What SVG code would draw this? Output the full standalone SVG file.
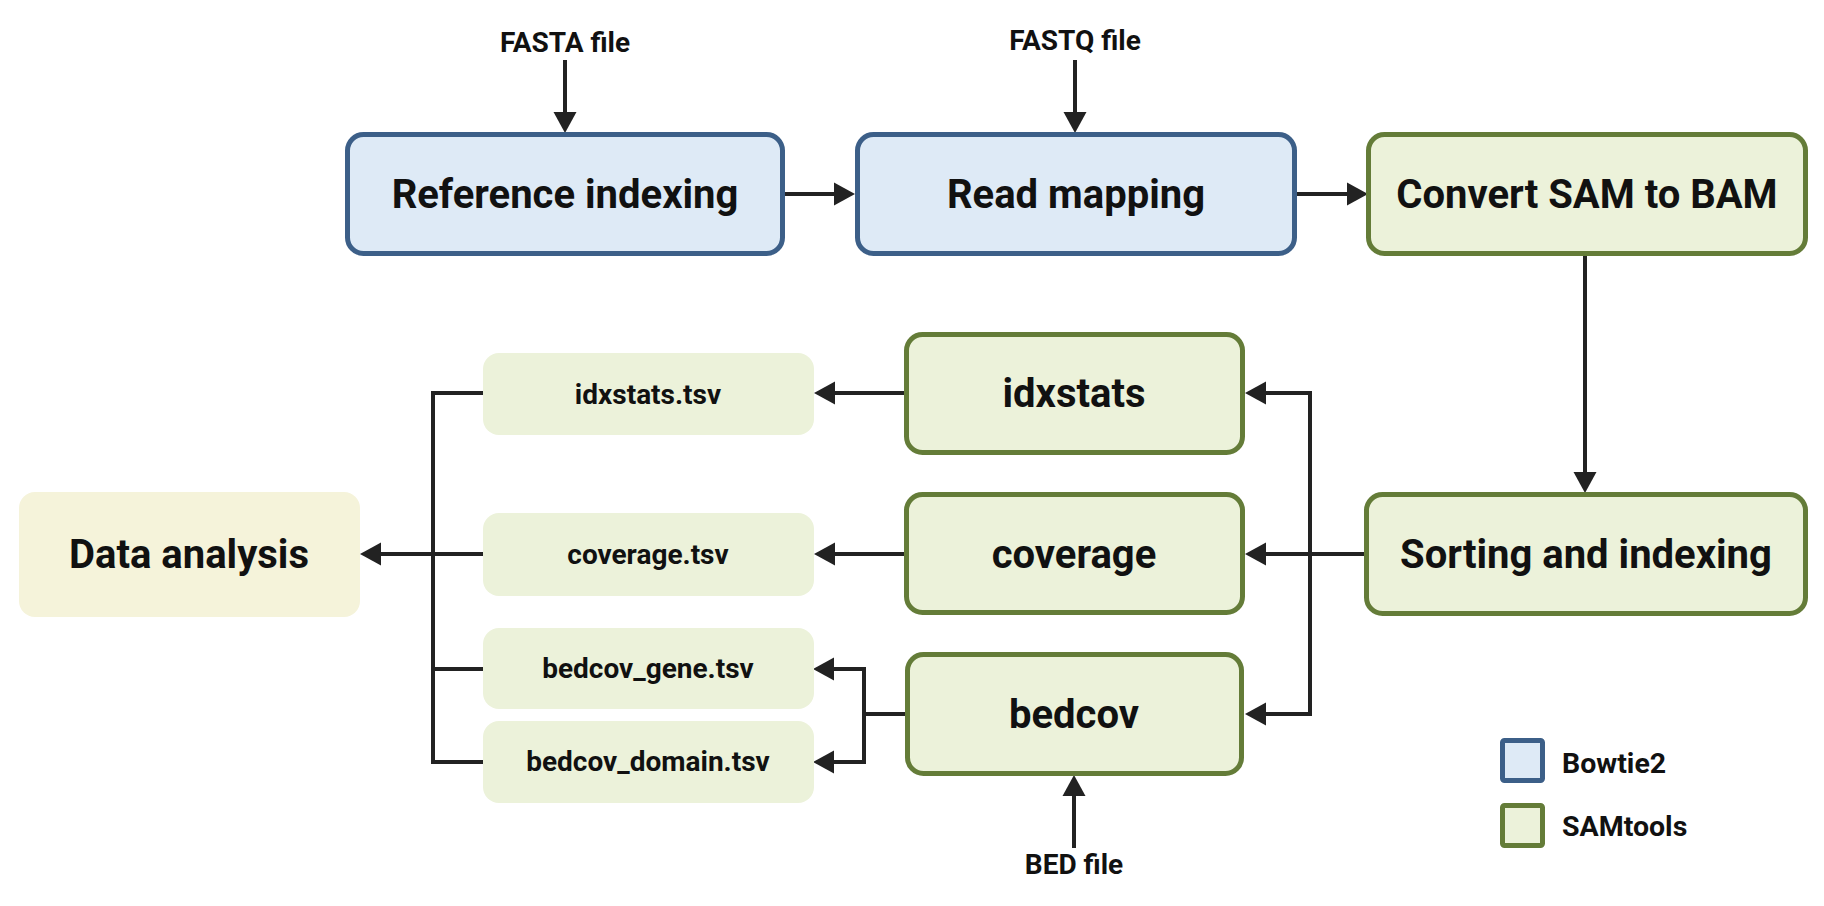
<svg xmlns="http://www.w3.org/2000/svg" width="1824" height="906" viewBox="0 0 1824 906">
<style>
.blue{fill:#deeaf6;stroke:#3c5f88;stroke-width:5}
.green{fill:#ecf2da;stroke:#647c38;stroke-width:5}
.out{fill:#ecf2da}
.da{fill:#f5f3da}
.lbl{font-family:Roboto,"Liberation Sans",sans-serif;font-weight:bold;font-size:40px;fill:#111;text-anchor:middle}
.sm{font-family:Roboto,"Liberation Sans",sans-serif;font-weight:bold;font-size:28px;fill:#111;text-anchor:middle}
.lg{font-family:Roboto,"Liberation Sans",sans-serif;font-weight:bold;font-size:28.5px;fill:#111}
.c{fill:none;stroke:#222;stroke-width:4}
</style>
<defs>
<marker id="ah" markerUnits="userSpaceOnUse" markerWidth="22" markerHeight="24" refX="2" refY="12" orient="auto">
<path d="M0,0.5 L21,12 L0,23.5 z" fill="#222"/>
</marker>
</defs>
<rect width="1824" height="906" fill="#fff"/>
<g id="connectors">
<path class="c" d="M565,60 V114" marker-end="url(#ah)"/>
<path class="c" d="M1075,60 V114" marker-end="url(#ah)"/>
<path class="c" d="M785,194 H836" marker-end="url(#ah)"/>
<path class="c" d="M1297,194 H1349" marker-end="url(#ah)"/>
<path class="c" d="M1585,256 V474" marker-end="url(#ah)"/>
<path class="c" d="M1364,554 H1264" marker-end="url(#ah)"/>
<path class="c" d="M1310,554 V393 H1264" marker-end="url(#ah)"/>
<path class="c" d="M1310,554 V714 H1264" marker-end="url(#ah)"/>
<path class="c" d="M904,393 H833" marker-end="url(#ah)"/>
<path class="c" d="M904,554 H833" marker-end="url(#ah)"/>
<path class="c" d="M905,714 H864 V669 H832" marker-end="url(#ah)"/>
<path class="c" d="M864,714 V762 H832" marker-end="url(#ah)"/>
<path class="c" d="M1074,848 V794" marker-end="url(#ah)"/>
<path class="c" d="M483,393 H433 V762 H483"/>
<path class="c" d="M483,669 H433"/>
<path class="c" d="M483,554 H379" marker-end="url(#ah)"/>
</g>
<g id="fasta"><text class="sm" x="565" y="52">FASTA file</text></g>
<g id="fastq"><text class="sm" x="1075" y="50">FASTQ file</text></g>
<g id="bed"><text class="sm" x="1074" y="874">BED file</text></g>
<g id="ref-indexing"><rect class="blue" x="347.5" y="134.5" width="435" height="119" rx="16"/><text class="lbl" x="565" y="208">Reference indexing</text></g>
<g id="read-mapping"><rect class="blue" x="857.5" y="134.5" width="437" height="119" rx="16"/><text class="lbl" x="1076" y="208">Read mapping</text></g>
<g id="convert"><rect class="green" x="1368.5" y="134.5" width="437" height="119" rx="16"/><text class="lbl" x="1587" y="208">Convert SAM to BAM</text></g>
<g id="sorting"><rect class="green" x="1366.5" y="494.5" width="439" height="119" rx="16"/><text class="lbl" x="1586" y="568">Sorting and indexing</text></g>
<g id="idxstats"><rect class="green" x="906.5" y="334.5" width="336" height="118" rx="16"/><text class="lbl" x="1074" y="407">idxstats</text></g>
<g id="coverage"><rect class="green" x="906.5" y="494.5" width="336" height="118" rx="16"/><text class="lbl" x="1074" y="568">coverage</text></g>
<g id="bedcov"><rect class="green" x="907.5" y="654.5" width="334" height="119" rx="16"/><text class="lbl" x="1074" y="728">bedcov</text></g>
<g id="idxstats-tsv"><rect class="out" x="483" y="353" width="331" height="82" rx="16"/><text class="sm" x="648" y="404">idxstats.tsv</text></g>
<g id="coverage-tsv"><rect class="out" x="483" y="513" width="331" height="83" rx="16"/><text class="sm" x="648" y="564">coverage.tsv</text></g>
<g id="bedcov-gene-tsv"><rect class="out" x="483" y="628" width="331" height="81" rx="16"/><text class="sm" x="648" y="678">bedcov_gene.tsv</text></g>
<g id="bedcov-domain-tsv"><rect class="out" x="483" y="721" width="331" height="82" rx="16"/><text class="sm" x="648" y="771">bedcov_domain.tsv</text></g>
<g id="data-analysis"><rect class="da" x="19" y="492" width="341" height="125" rx="16"/><text class="lbl" x="189" y="568">Data analysis</text></g>
<g id="legend">
<rect class="blue" x="1502.5" y="740.5" width="40" height="40" rx="2"/>
<text class="lg" x="1562" y="773">Bowtie2</text>
<rect class="green" x="1502.5" y="805.5" width="40" height="40" rx="2"/>
<text class="lg" x="1562" y="836">SAMtools</text>
</g>
</svg>
